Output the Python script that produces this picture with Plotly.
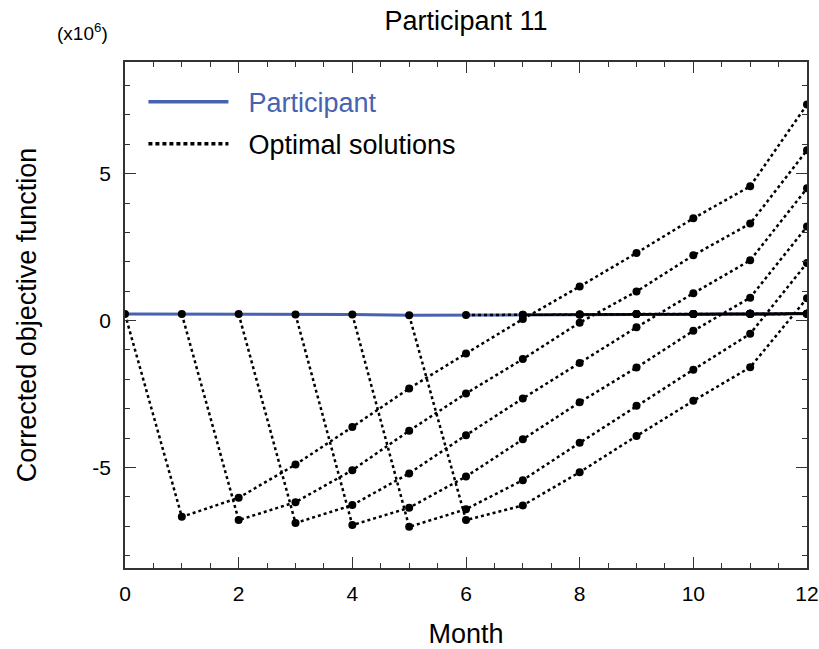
import plotly.graph_objects as go

months = list(range(13))
participant = [0.22, 0.22, 0.22, 0.21, 0.21, 0.18, 0.19, 0.20, 0.21, 0.22, 0.22, 0.23, 0.23]

# Optimal solutions (x10^6), each starting at the given month
opt_start = [0, 1, 2, 3, 4, 5]
opt_values = [
    [0.22, -6.68, -6.03, -4.90, -3.62, -2.31, -1.12, 0.05, 1.16, 2.30, 3.48, 4.57, 7.35],
    [0.22, -6.79, -6.18, -5.09, -3.75, -2.48, -1.31, -0.07, 0.99, 2.22, 3.30, 5.80],
    [0.22, -6.89, -6.28, -5.20, -3.90, -2.65, -1.44, -0.23, 0.93, 2.05, 4.50],
    [0.21, -6.96, -6.37, -5.31, -4.04, -2.78, -1.60, -0.35, 0.78, 3.20],
    [0.21, -7.02, -6.42, -5.43, -4.16, -2.90, -1.67, -0.45, 1.96],
    [0.18, -6.79, -6.29, -5.16, -3.93, -2.73, -1.59, 0.76],
]
# later starts: optimal path coincides with participant
flat_starts = [6, 7, 8, 9, 10, 11]

y_ticks = [-5, 0, 5]
y_ticktext = ["-5", "0", "5"]
x_ticks = [0, 2, 4, 6, 8, 10, 12]

BLUE = "#4662B0"
FONT = "Liberation Sans, Arial, Helvetica, sans-serif"

fig = go.Figure()

fig.add_trace(go.Scatter(x=months, y=participant, mode="lines",
                         line=dict(color=BLUE, width=3), showlegend=False))

dot = dict(color="black", width=2.5, dash="3px,3px")
for s, vals in zip(opt_start, opt_values):
    fig.add_trace(go.Scatter(x=months[s:s + len(vals)], y=vals, mode="lines+markers",
                             line=dot, marker=dict(color="black", size=8),
                             showlegend=False))
for s in flat_starts:
    fig.add_trace(go.Scatter(x=months[s:], y=participant[s:], mode="lines+markers",
                             line=dot, marker=dict(color="black", size=8),
                             showlegend=False))

# legend entries
fig.add_trace(go.Scatter(x=[None], y=[None], mode="lines", line=dict(color=BLUE, width=3.5),
                         name="&nbsp;&nbsp;<span style='color:%s'>Participant</span>" % BLUE,
                         legendgroup="a"))
fig.add_trace(go.Scatter(x=[None], y=[None], mode="lines", line=dict(color="black", width=3.5, dash="4px,3px"),
                         name="&nbsp;&nbsp;Optimal solutions", legendgroup="b"))

axis_common = dict(showline=True, linecolor="#333", linewidth=1.5, mirror="ticks",
                   ticks="inside", ticklen=11, tickwidth=1.3, tickcolor="#333",
                   showgrid=False, zeroline=False, automargin=False,
                   tickfont=dict(family=FONT, size=21, color="black"))

fig.update_layout(
    width=819, height=649,
    margin=dict(l=125, r=12, t=62, b=81),
    paper_bgcolor="white", plot_bgcolor="white",
    title=dict(text="Participant 11", x=0.569, xanchor="center", y=0.969, yanchor="middle",
               font=dict(family=FONT, size=27, color="black")),
    xaxis=dict(range=[0, 12], tickvals=x_ticks, ticklabelstandoff=6,
               minor=dict(dtick=0.5, ticks="inside", ticklen=5, tickcolor="#333", tickwidth=1.2),
               title=dict(text="Month", font=dict(family=FONT, size=27, color="black"), standoff=24),
               **axis_common),
    yaxis=dict(range=[-8.42, 8.8], tickvals=y_ticks, ticktext=y_ticktext, ticklabelstandoff=8,
               minor=dict(dtick=1, ticks="inside", ticklen=5, tickcolor="#333", tickwidth=1.2),
               title=dict(text="Corrected objective function", font=dict(family=FONT, size=27, color="black"), standoff=48),
               **axis_common),
    legend=dict(x=0.027, y=0.969, xanchor="left", yanchor="top", bgcolor="rgba(0,0,0,0)",
                font=dict(family=FONT, size=27, color="black"), itemwidth=80,
                traceorder="grouped", tracegroupgap=4),
    annotations=[dict(text="(x10<sup>6</sup>)", xref="paper", yref="paper", x=-0.022, y=1.06,
                      xanchor="right", yanchor="middle", showarrow=False,
                      font=dict(family=FONT, size=19, color="black"))],
)

fig.write_html("out.html")
